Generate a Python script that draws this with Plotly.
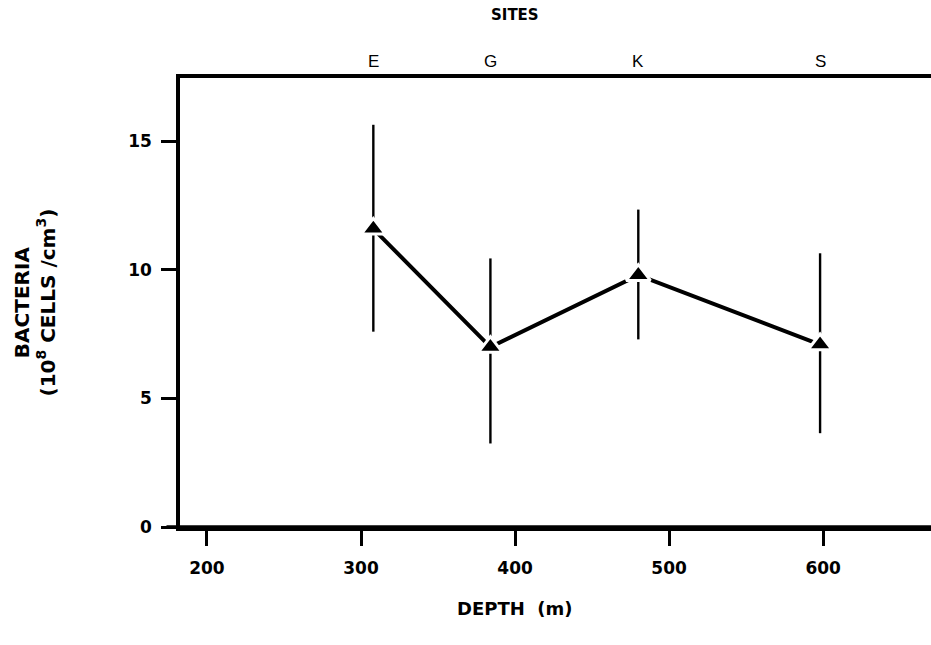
import plotly.graph_objects as go

# Sampling sites along the depth transect
sites = ["E", "G", "K", "S"]
depth_m = [308, 384, 480, 598]

# Bacterial abundance (10^8 cells/cm^3) with upper / lower error extents
bacteria = [11.6, 7.0, 9.8, 7.1]
err_plus = [4.05, 3.45, 2.55, 3.55]
err_minus = [4.0, 3.75, 2.5, 3.45]

x_ticks = [200, 300, 400, 500, 600]
y_ticks = [0, 5, 10, 15]

BOLD = "DejaVu Sans"
PLAIN = "Liberation Sans"

fig = go.Figure()

# connecting line
fig.add_trace(go.Scatter(
    x=depth_m, y=bacteria, mode="lines",
    line=dict(color="black", width=4), hoverinfo="skip", showlegend=False,
))

# vertical error bars (no caps)
fig.add_trace(go.Scatter(
    x=depth_m, y=bacteria, mode="markers",
    marker=dict(size=1, color="rgba(0,0,0,0)"),
    error_y=dict(type="data", symmetric=False, array=err_plus,
                 arrayminus=err_minus, color="black", thickness=2.4, width=0),
    hoverinfo="skip", showlegend=False,
))

# triangle markers with a white halo so the lines stop short of them
fig.add_trace(go.Scatter(
    x=depth_m, y=bacteria, mode="markers",
    marker=dict(symbol="triangle-up", size=21, color="black",
                line=dict(color="white", width=3)),
    showlegend=False,
))

# site letters above the top frame
for s, d in zip(sites, depth_m):
    fig.add_annotation(x=d, y=1, xref="x", yref="paper", text=s,
                       showarrow=False, yanchor="bottom", yshift=5,
                       font=dict(family=PLAIN, size=17, color="black"))

fig.add_annotation(x=400, y=1, xref="x", yref="paper", text="<b>SITES</b>",
                   showarrow=False, yanchor="middle", yshift=63,
                   font=dict(family=BOLD, size=15, color="black"))

fig.add_annotation(x=400, y=0, xref="x", yref="paper", text="<b>DEPTH  (m)</b>",
                   showarrow=False, yanchor="middle", yshift=-81,
                   font=dict(family=BOLD, size=18, color="black"))

fig.add_annotation(x=0, y=0.5, xref="paper", yref="paper",
                   text="<b>BACTERIA</b><br><b>(10<sup>8</sup> CELLS /cm<sup>3</sup>)</b>",
                   showarrow=False, textangle=-90, xanchor="center",
                   xshift=-146,
                   font=dict(family=BOLD, size=20, color="black"))

# bottom axis line runs slightly past the y axis on the left
fig.add_shape(type="line", xref="paper", yref="paper", x0=-0.018, x1=1,
              y0=0, y1=0, line=dict(color="black", width=3.5))

fig.update_xaxes(
    range=[182.5, 670], tickvals=x_ticks, ticks="outside", ticklen=15,
    tickwidth=3, tickcolor="black", showline=True, mirror=True,
    linecolor="black", linewidth=3.5, showgrid=False, zeroline=False,
    tickfont=dict(family=BOLD, size=17, color="black", weight="bold"),
    ticklabelstandoff=8,
)
fig.update_yaxes(
    range=[0, 17.47], tickvals=y_ticks, ticks="outside", ticklen=15,
    tickwidth=3, tickcolor="black", showline=True, mirror=False,
    linecolor="black", linewidth=3.5, showgrid=False, zeroline=False,
    tickfont=dict(family=BOLD, size=17, color="black", weight="bold"),
    ticklabelstandoff=6,
)

fig.update_layout(
    width=931, height=645,
    margin=dict(l=180, r=0, t=78, b=118),
    paper_bgcolor="white", plot_bgcolor="white",
    font=dict(family=BOLD, color="black"),
)

fig.write_html("out.html")
